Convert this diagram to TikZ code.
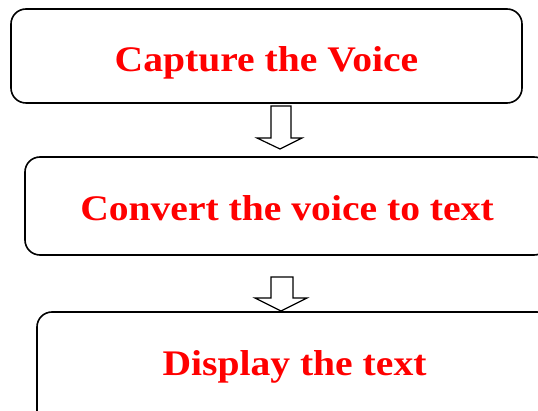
\documentclass[tikz,border=0pt]{standalone}
\usepackage{fontspec}
\setmainfont{Liberation Serif}
\definecolor{labelred}{RGB}{255,0,0}
\newcommand{\widelabel}[1]{\scalebox{1.1}[1]{#1}}
\begin{document}
\begin{tikzpicture}[x=1pt,y=-1pt,
  stepbox/.style={draw=black,line width=1.6pt,rounded corners=15pt},
  steptext/.style={anchor=base,text=labelred,font=\bfseries\fontsize{36}{40}\selectfont,inner sep=0pt},
  blockarrow/.style={draw=black,line width=1.2pt,fill=white,line join=miter}]
\useasboundingbox (0,0) rectangle (538,411);
\begin{scope}
\clip (0,0) rectangle (538,411);
% three step boxes
\draw[stepbox] (11,9) rectangle (522,103);
\draw[stepbox] (25,157) rectangle (549,255);
\draw[stepbox] (37,312) rectangle (552,430);
% labels
\node[steptext] (t1) at (266.5,72) {\widelabel{Capture the Voice}};
\node[steptext] (t2) at (287,221) {\widelabel{Convert the voice to text}};
\node[steptext] (t3) at (294.5,376) {\widelabel{Display the text}};
% hollow down arrows between steps
\draw[blockarrow] (271,106) -- (291,106) -- (291,138) -- (302,138) -- (280,149)
  -- (257,138) -- (271,138) -- cycle;
\draw[blockarrow] (271,277) -- (293,277) -- (293,298) -- (307,298) -- (281,311)
  -- (255,298) -- (271,298) -- cycle;
\end{scope}
\end{tikzpicture}
\end{document}
